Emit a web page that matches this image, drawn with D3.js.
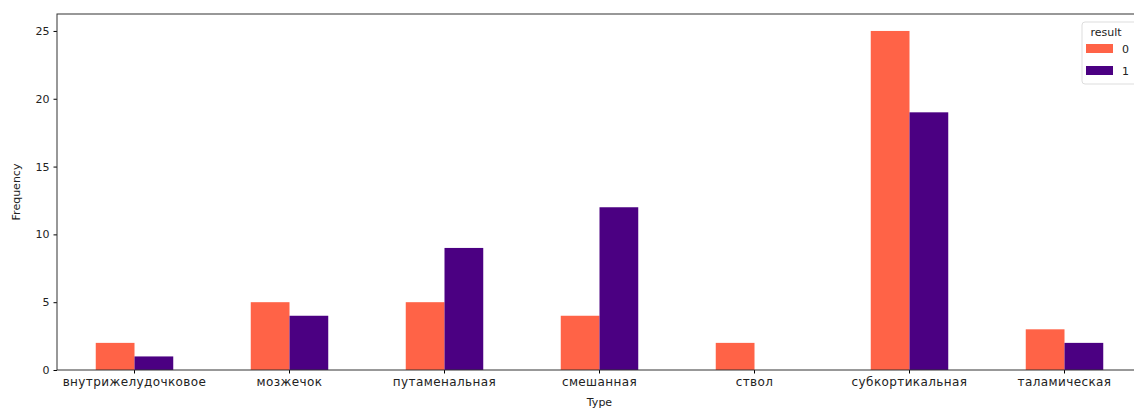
<!DOCTYPE html>
<html lang="en">
	<head>
		<meta charset="utf-8">
		<title>Frequency by Type</title>
		<script src="https://d3js.org/d3.v7.min.js"></script>
		<style type="text/css">
body { margin: 0; background: #fff; }
text { font-family: "DejaVu Sans", sans-serif; fill: #222; }
		</style>
	</head>
	<body>
<div id="chart"></div>
		<script type="text/javascript">
// data
var types = ["внутрижелудочковое", "мозжечок", "путаменальная", "смешанная", "ствол", "субкортикальная", "таламическая"];
var result0 = [2, 5, 5, 4, 2, 25, 3];
var result1 = [1, 4, 9, 12, 0, 19, 2];
var seriesKeys = ["0", "1"];
var yTicks = [0, 5, 10, 15, 20, 25];

var colors = {"0": "#ff6347", "1": "#4b0082"};

var w = 1134;
var h = 408;
var plotLeft = 57, plotTop = 14, plotBottom = 370;
var step = 155;
var plotRight = plotLeft + step * types.length;

var rows = types.map(function (t, i) {
  return {type: t, "0": result0[i], "1": result1[i]};
});

var svg = d3.select("#chart")
  .append("svg")
  .attr("width", w)
  .attr("height", h);

var xScale = d3.scaleBand()
  .domain(types)
  .range([plotLeft, plotRight])
  .paddingInner(0.5)
  .paddingOuter(0.25);

var xSub = d3.scaleBand()
  .domain(seriesKeys)
  .range([0, xScale.bandwidth()]);

var yScale = d3.scaleLinear()
  .domain([0, 26.25])
  .range([plotBottom, plotTop]);

// bars
var groups = svg.selectAll("g.grp")
  .data(rows)
  .enter()
  .append("g")
  .attr("class", "grp")
  .attr("transform", d => "translate(" + xScale(d.type) + ",0)");

groups.selectAll("rect")
  .data(d => seriesKeys.map(k => ({key: k, value: d[k]})))
  .enter()
  .append("rect")
  .attr("x", d => xSub(d.key))
  .attr("y", d => yScale(d.value))
  .attr("width", xSub.bandwidth())
  .attr("height", d => plotBottom - yScale(d.value))
  .attr("fill", d => colors[d.key]);

// axes
var xAxis = d3.axisBottom(xScale).tickSize(3.5).tickPadding(4);
var yAxis = d3.axisLeft(yScale).tickValues(yTicks).tickSize(3.5).tickPadding(4);

var gx = svg.append("g")
  .attr("transform", "translate(0," + plotBottom + ")")
  .call(xAxis);
gx.select(".domain").remove();
gx.selectAll("text")
  .style("font-size", "12px")
  .style("letter-spacing", "0.4px")
  .attr("fill", "#222");

var gy = svg.append("g")
  .attr("transform", "translate(" + plotLeft + ",0)")
  .call(yAxis);
gy.select(".domain").remove();
gy.selectAll("text").style("font-size", "11px").attr("fill", "#222");

// frame
svg.append("rect")
  .attr("x", plotLeft)
  .attr("y", plotTop)
  .attr("width", plotRight - plotLeft)
  .attr("height", plotBottom - plotTop)
  .attr("fill", "none")
  .attr("stroke", "#333")
  .attr("stroke-width", 1);

// axis labels
svg.append("text")
  .attr("x", (plotLeft + plotRight) / 2)
  .attr("y", 406)
  .attr("text-anchor", "middle")
  .style("font-size", "11px")
  .text("Type");

svg.append("text")
  .attr("transform", "translate(20," + (plotTop + plotBottom) / 2 + ") rotate(-90)")
  .attr("text-anchor", "middle")
  .style("font-size", "11px")
  .text("Frequency");

// legend
var lg = svg.append("g").attr("transform", "translate(1082,22)");
lg.append("rect")
  .attr("width", 60)
  .attr("height", 62)
  .attr("rx", 3)
  .attr("fill", "#fff")
  .attr("fill-opacity", 0.8)
  .attr("stroke", "#ddd");
lg.append("text")
  .attr("x", 24)
  .attr("y", 14)
  .attr("text-anchor", "middle")
  .style("font-size", "11px")
  .text("result");
seriesKeys.forEach(function (k, i) {
  lg.append("rect")
    .attr("x", 4)
    .attr("y", 22 + i * 22)
    .attr("width", 27)
    .attr("height", 9)
    .attr("fill", colors[k]);
  lg.append("text")
    .attr("x", 40)
    .attr("y", 31 + i * 22)
    .style("font-size", "11px")
    .text(k);
});
		</script>
	</body>
</html>
